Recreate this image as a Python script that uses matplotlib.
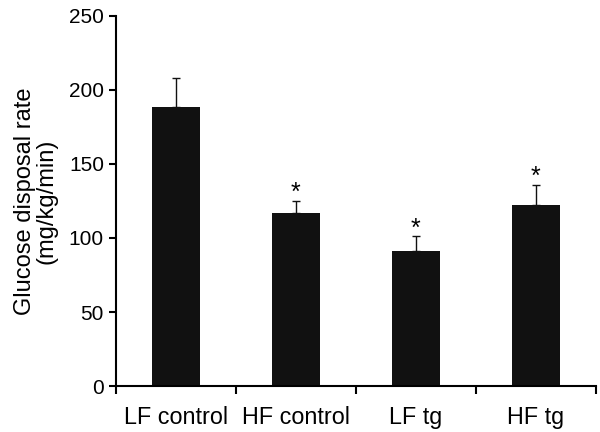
import numpy as np
import matplotlib.pyplot as plt

plt.rcParams['font.family'] = ['Liberation Sans', 'DejaVu Sans']

groups = ['LF control', 'HF control', 'LF tg', 'HF tg']
rate = [188, 117, 91, 122]
sem = [20, 8, 10, 14]
signif = [False, True, True, True]

fig = plt.figure(figsize=(6, 4.32), dpi=100)
ax = fig.add_axes([0.193, 0.106, 0.8, 0.858])

x = np.arange(len(groups))
ax.bar(x, rate, width=0.4, color='#111111', zorder=2)
ax.errorbar(x, rate, yerr=[np.zeros(len(sem)), sem], fmt='none',
            ecolor='#111111', elinewidth=1, capsize=3, capthick=1, zorder=1)

# significance marks above the error caps
for xi, r, e, s in zip(x, rate, sem, signif):
    if s:
        ax.annotate('*', (xi, r + e), xytext=(0, -3), textcoords='offset points',
                    ha='center', va='bottom', fontsize=18)

ax.set_xlim(-0.5, 3.5)
ax.set_ylim(0, 250)
ax.set_yticks(np.arange(0, 251, 50))
ax.set_xticks(np.arange(-0.5, 3.6, 1))
ax.set_xticklabels([])
ax.set_xticks(x, minor=True)
ax.set_xticklabels(groups, minor=True, fontsize=16.8)
ax.tick_params(axis='x', which='minor', length=0, pad=14)
ax.tick_params(axis='x', which='major', length=6, width=1.5)
ax.tick_params(axis='y', length=5, width=1.5, labelsize=15)

ax.spines['top'].set_visible(False)
ax.spines['right'].set_visible(False)
ax.spines['left'].set_linewidth(1.5)
ax.spines['bottom'].set_linewidth(1.5)

ax.set_ylabel('Glucose disposal rate\n(mg/kg/min)', fontsize=17, labelpad=8,
              linespacing=1.0)

fig.savefig('out.png', dpi=100)
